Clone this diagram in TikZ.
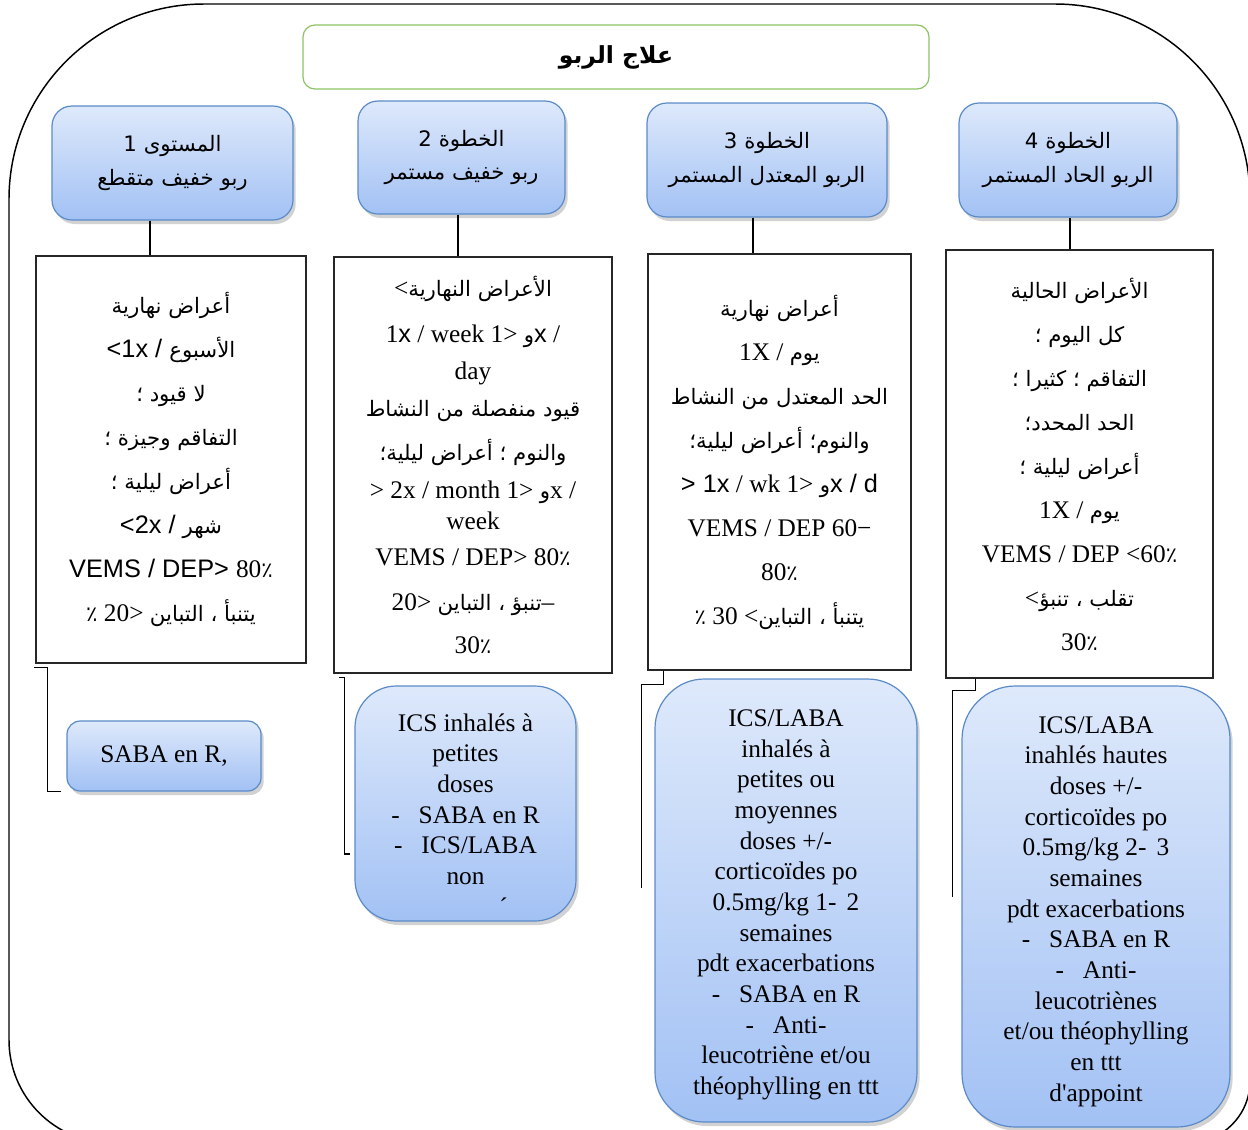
\documentclass[tikz,border=0pt]{standalone}
\usepackage{fontspec}
\setmainfont{Liberation Serif}
\newfontfamily\plainserif{Liberation Serif}
\newfontfamily\arabicfont[Script=Arabic,Scale=0.84]{DejaVu Sans}
\newfontfamily\sansfont{Liberation Sans}
\TeXXeTstate=1
\usetikzlibrary{calc,shadows}

% right-to-left Arabic run, and the Arabic percent sign
\newcommand{\artxt}[1]{{\arabicfont\beginR #1\endR}}
\newcommand{\pcsign}{{\arabicfont ٪}}

\definecolor{boxtop}{HTML}{DEE9FB}
\definecolor{boxbot}{HTML}{A2C1F4}
\definecolor{boxedge}{HTML}{5A8BC8}
\definecolor{titleedge}{HTML}{8CC265}

\tikzset{
  bluebox/.style={draw=boxedge, line width=0.9pt, top color=boxtop, bottom color=boxbot,
    drop shadow={shadow xshift=2pt, shadow yshift=-3pt, opacity=0.25, fill=black!70},
    align=center, inner sep=2pt},
  headbox/.style={bluebox, rounded corners=15pt, font=\fontsize{19}{25}\selectfont},
  treatbox/.style={bluebox, font=\fontsize{19}{23}\selectfont},
  critbox/.style={draw=black!85, line width=0.9pt, fill=white, align=center, inner sep=2pt,
    font=\fontsize{19}{33}\selectfont},
  titlebox/.style={draw=titleedge, line width=0.9pt, fill=white, rounded corners=9pt},
  link/.style={draw=black, line width=0.9pt},
}

\begin{document}
\begin{tikzpicture}[x=0.75pt, y=-0.75pt]
\useasboundingbox (0,0) rectangle (1248,1129);
\clip (0,0) rectangle (1248,1129);

% outer frame
\draw[line width=1.1pt]
  (9,1040) -- (9,199) .. controls (9,91.4) and (96.6,4) .. (204,4)
  -- (1055,4) .. controls (1162.6,4) and (1250,91.4) .. (1250,199)
  -- (1250,1081) .. controls (1250,1115.2) and (1222.2,1143) .. (1188,1143)
  -- (112,1143) .. controls (55.1,1143) and (9,1096.9) .. (9,1040) -- cycle;

% title
\node[titlebox, minimum width=469.5pt, minimum height=48pt] (title) at (616,57)
  {\fontsize{21}{25}\selectfont{\arabicfont\bfseries\beginR علاج الربو\endR}};

% step headers
\node[headbox, minimum width=180.75pt, minimum height=85.5pt] (h1) at (172.5,163)
  {\artxt{المستوى 1}\\ \artxt{ربو خفيف متقطع}};
\node[headbox, minimum width=155.25pt, minimum height=84.75pt] (h2) at (461.5,157.5)
  {\artxt{الخطوة 2}\\ \artxt{ربو خفيف مستمر}};
\node[headbox, minimum width=180pt, minimum height=85.5pt] (h3) at (767,160)
  {\artxt{الخطوة 3}\\ \artxt{الربو المعتدل المستمر}};
\node[headbox, minimum width=163.5pt, minimum height=85.5pt] (h4) at (1068,160)
  {\artxt{الخطوة 4}\\ \artxt{الربو الحاد المستمر}};

% criteria boxes
\node[critbox, minimum width=202.5pt, minimum height=305.25pt] (t1) at (171,459.5)
  {\artxt{أعراض نهارية}\\
   {\sansfont <1x / }\artxt{الأسبوع}\\
   \artxt{لا قيود ؛}\\
   \artxt{التفاقم وجيزة ؛}\\
   \artxt{أعراض ليلية ؛}\\
   {\sansfont <2x / }\artxt{شهر}\\
   {\sansfont VEMS / DEP> }80\pcsign\\
   \pcsign{} 20> \artxt{يتنبأ ، التباين}};

\node[critbox, minimum width=208.5pt, minimum height=312pt] (t2) at (473,465)
  {<\artxt{الأعراض النهارية}\\[1.5pt]
   1{\sansfont x} / week 1> \artxt{و}{\sansfont x} /\\[-5pt]
   day\\[-5pt]
   \artxt{قيود منفصلة من النشاط}\\
   \artxt{والنوم ؛ أعراض ليلية؛}\\[-4.5pt]
   > 2x / month 1> \artxt{و}x /\\[-9.75pt]
   week\\[-6pt]
   VEMS / DEP> 80\pcsign\\[0.75pt]
   20> \artxt{تنبؤ ، التباين}–\\[-0.75pt]
   30\pcsign};

\node[critbox, minimum width=197.25pt, minimum height=312pt] (t3) at (779.5,462)
  {\artxt{أعراض نهارية}\\
   1X / \artxt{يوم}\\
   \artxt{الحد المعتدل من النشاط}\\
   \artxt{والنوم؛ أعراض ليلية؛}\\
   {\sansfont > 1x} / wk 1> \artxt{و}{\sansfont x / d}\\
   VEMS / DEP 60−\\
   80\pcsign\\
   \pcsign{} 30 <\artxt{يتنبأ ، التباين}};

\node[critbox, minimum width=200.25pt, minimum height=321pt] (t4) at (1079.5,464)
  {\artxt{الأعراض الحالية}\\
   \artxt{كل اليوم ؛}\\
   \artxt{التفاقم ؛ كثيرا ؛}\\
   \artxt{الحد المحدد؛}\\
   \artxt{أعراض ليلية ؛}\\
   1X / \artxt{يوم}\\
   VEMS / DEP <60\pcsign\\
   <\artxt{تقلب ، تنبؤ}\\
   30\pcsign};

% treatment boxes
\node[treatbox, rounded corners=10pt, minimum width=145.5pt, minimum height=52.5pt] (b1) at (164,756)
  {SABA en R,};
\node[treatbox, rounded corners=31pt, minimum width=165.75pt, minimum height=176.25pt] (b2) at (465.5,803.5)
  {\rule{0pt}{29.5pt}ICS inhalés à\\ petites\\ doses\\
   -\hspace{0.75em}SABA en R\\
   -\hspace{0.75em}ICS/LABA\\
   non\\ \hspace*{57pt}´};
\node[treatbox, rounded corners=37pt, minimum width=196.5pt, minimum height=332.25pt] (b3) at (786,900.5)
  {\rule{0pt}{19pt}ICS/LABA\\ inhalés à\\ petites ou\\ moyennes\\ doses +/-\hspace*{1em}\\
   corticoïdes po\\ 0.5mg/kg 1-\hspace{0.4em}2\\ semaines\\ pdt exacerbations\\
   -\hspace{0.75em}SABA en R\\ -\hspace{0.75em}Anti-\hspace*{0.5em}\\
   leucotriène et/ou\\ théophylling en ttt};
\node[treatbox, rounded corners=40pt, minimum width=201pt, minimum height=330.75pt] (b4) at (1096,906.5)
  {\rule{0pt}{20pt}ICS/LABA\\ inahlés hautes\\ doses +/-\hspace*{1em}\\ corticoïdes po\\
   0.5mg/kg 2-\hspace{0.4em}3\\ semaines\\ pdt exacerbations\\
   -\hspace{0.75em}SABA en R\\ -\hspace{0.75em}Anti-\hspace*{0.5em}\\
   leucotriènes\\ et/ou théophylling\\ en ttt\\ d{\plainserif '}appoint};

% header to criteria links
\coordinate (k1) at (150,0);
\coordinate (k2) at (458,0);
\coordinate (k3) at (753,0);
\coordinate (k4) at (1070,0);
\draw[link] (h1.south -| k1) -- (t1.north -| k1);
\draw[link] (h2.south -| k2) -- (t2.north -| k2);
\draw[link] (h3.south -| k3) -- (t3.north -| k3);
\draw[link] (h4.south -| k4) -- (t4.north -| k4);

% criteria to treatment elbows
\draw[link] ($(t1.south west)+(-1,4)$) -- ++(13,0) |- ($(b1.south west)+(-5,0)$);
\draw[link] ($(t2.south west)+(6,4)$) -- ++(5,0) |- ($(b2.west)+(-4,50.5)$);
\draw[link] ($(t3.south west)+(16,0)$) -- ++(0,14) -| ($(b3.west)+(-13,-12.5)$);
\draw[link] ($(t4.south west)+(30,0)$) -- ++(0,12) -| ($(b4.west)+(-9,-9.5)$);
\end{tikzpicture}
\end{document}
